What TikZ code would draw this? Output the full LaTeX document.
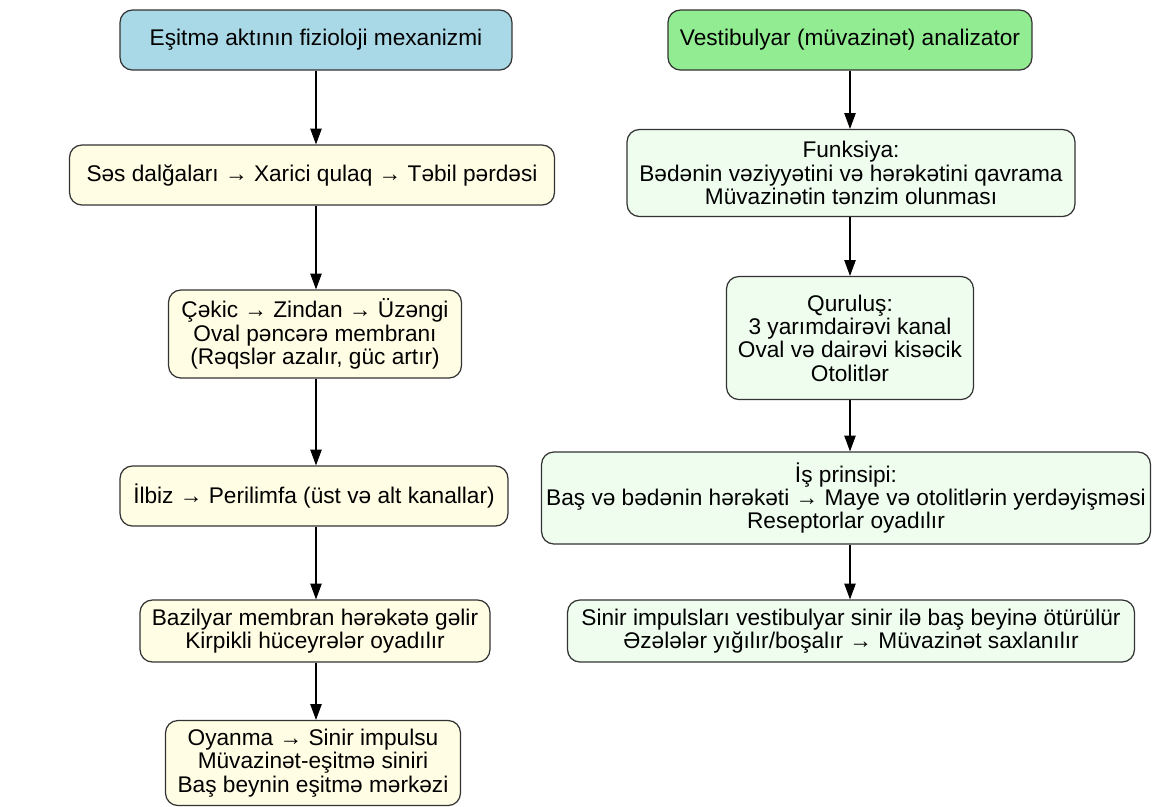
\documentclass[tikz,border=0pt]{standalone}
\usepackage{fontspec}
\setmainfont{Liberation Sans}
\usetikzlibrary{arrows.meta}

\definecolor{earhead}{HTML}{A9D8E6}
\definecolor{vesthead}{HTML}{92EC92}
\definecolor{earfill}{HTML}{FFFDE3}
\definecolor{vestfill}{HTML}{EEFDEE}
\definecolor{edge}{HTML}{333333}

\begin{document}
\begin{tikzpicture}[x=0.02cm, y=-0.02cm,
  box/.style={align=center, draw=edge, line width=0.7pt, rounded corners=7pt, inner sep=2pt, font=\fontsize{12.9}{13.3}\selectfont},
  earbox/.style={box, fill=earfill},
  vestbox/.style={box, fill=vestfill},
  flow/.style={-{Triangle[length=9pt,width=6.5pt]}, line width=0.6pt, draw=black}]
\useasboundingbox (0,0) rectangle (1161,806);

% left column: hearing
\node[box, fill=earhead, minimum width=7.84cm, minimum height=1.2cm] (ear0) at (316,40) {Eşitmə aktının fizioloji mexanizmi};
\node[earbox, minimum width=9.7cm, minimum height=1.2cm] (ear1) at (312,175) {Səs dalğaları → Xarici qulaq → Təbil pərdəsi};
\node[earbox, minimum width=5.86cm, minimum height=1.76cm] (ear2) at (315,334) {Çəkic → Zindan → Üzəngi\\Oval pəncərə membranı\\(Rəqslər azalır, güc artır)};
\node[earbox, minimum width=7.76cm, minimum height=1.2cm] (ear3) at (314,496) {İlbiz → Perilimfa (üst və alt kanallar)};
\node[earbox, minimum width=7.0cm, minimum height=1.24cm] (ear4) at (315,631) {Bazilyar membran hərəkətə gəlir\\Kirpikli hüceyrələr oyadılır};
\node[earbox, minimum width=5.9cm, minimum height=1.7cm] (ear5) at (313,763) {Oyanma → Sinir impulsu\\Müvazinət-eşitmə siniri\\Baş beynin eşitmə mərkəzi};

% right column: vestibular
\node[box, fill=vesthead, minimum width=7.28cm, minimum height=1.2cm] (vest0) at (850,40) {Vestibulyar (müvazinət) analizator};
\node[vestbox, minimum width=8.96cm, minimum height=1.74cm] (vest1) at (851,173) {Funksiya:\\Bədənin vəziyyətini və hərəkətini qavrama\\Müvazinətin tənzim olunması};
\node[vestbox, minimum width=4.94cm, minimum height=2.46cm] (vest2) at (850,338) {Quruluş:\\3 yarımdairəvi kanal\\Oval və dairəvi kisəcik\\Otolitlər};
\node[vestbox, minimum width=12.18cm, minimum height=1.84cm] (vest3) at (846,498) {İş prinsipi:\\Baş və bədənin hərəkəti → Maye və otolitlərin yerdəyişməsi\\Reseptorlar oyadılır};
\node[vestbox, minimum width=11.34cm, minimum height=1.24cm] (vest4) at (851,631) {Sinir impulsları vestibulyar sinir ilə baş beyinə ötürülür\\Əzələlər yığılır/boşalır → Müvazinət saxlanılır};

\foreach \a/\b in {ear0/ear1, ear1/ear2, ear2/ear3, ear3/ear4, ear4/ear5}
  \draw[flow] (\a.south -| ear0) -- (\b.north -| ear0);
\foreach \a/\b in {vest0/vest1, vest1/vest2, vest2/vest3, vest3/vest4}
  \draw[flow] (\a.south -| vest0) -- (\b.north -| vest0);

\end{tikzpicture}
\end{document}
